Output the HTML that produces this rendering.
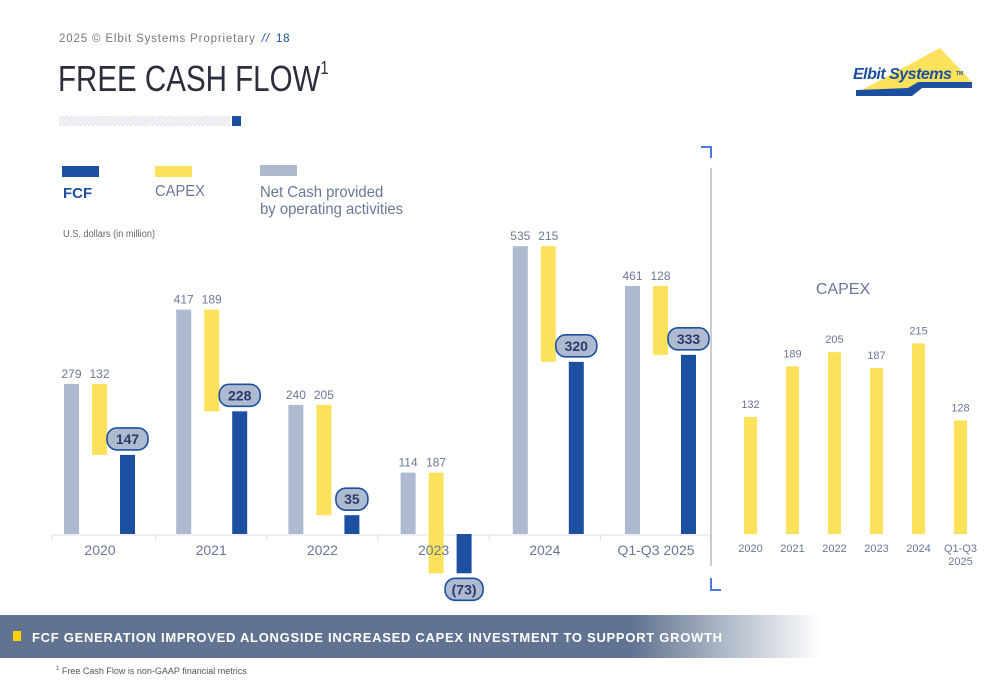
<!DOCTYPE html>
<html><head><meta charset="utf-8"><style>
body{margin:0;width:1000px;height:685px;background:#fff;font-family:"Liberation Sans",sans-serif;overflow:hidden;position:relative}
.abs{position:absolute}
</style></head><body>
<div class="abs" style="left:59px;top:33px;font-size:11.5px;letter-spacing:0.85px;color:#777">2025 © Elbit Systems Proprietary <span style="color:#1c4fa0;font-style:italic;margin-left:2px">//</span> <span style="color:#1c4fa0;margin-left:2px">18</span></div>
<div class="abs" style="left:58px;top:58px;font-size:36px;color:#2b2f3d;transform:scaleX(0.82);transform-origin:left">FREE CASH FLOW<sup style="font-size:18px;position:relative;top:-4px">1</sup></div>
<div class="abs" style="left:59px;top:116px;width:172px;height:10px;background:repeating-linear-gradient(135deg,#dfe3ea 0 1px,#f4f5f8 1px 3px)"></div>
<div class="abs" style="left:232px;top:116px;width:9px;height:10px;background:#1c4fa0"></div>
<svg class="abs" style="left:840px;top:40px" width="140" height="60">
<polygon points="18,52 100,8 132,42 85,42 72,52" fill="#fce15b"/>
<polygon points="16,50 68,48 78,42 132,42 132,48 82,48 72,56 16,56" fill="#1c4fa0"/>
<text x="13" y="39" font-size="16" font-weight="bold" font-style="italic" fill="#1c4fa0" letter-spacing="-0.5">Elbit Systems</text>
<text x="116" y="35" font-size="5" font-weight="bold" fill="#1c4fa0">TM</text>
</svg>
<div class="abs" style="left:62px;top:166px;width:37px;height:11px;background:#1c4fa0"></div>
<div class="abs" style="left:63px;top:185px;font-size:15px;font-weight:bold;color:#1c4fa0">FCF</div>
<div class="abs" style="left:155px;top:166px;width:37px;height:11px;background:#fce15b"></div>
<div class="abs" style="left:155px;top:183px;font-size:15.5px;color:#6a7795;transform:scaleX(0.95);transform-origin:left">CAPEX</div>
<div class="abs" style="left:260px;top:165px;width:37px;height:11px;background:#aebad0"></div>
<div class="abs" style="left:260px;top:184px;font-size:16px;line-height:17px;color:#6a7795;transform:scaleX(0.93);transform-origin:left">Net Cash provided<br>by operating activities</div>
<div class="abs" style="left:63px;top:229px;font-size:10px;color:#666;transform:scaleX(0.92);transform-origin:left">U.S. dollars (in million)</div>
<svg id="chart" class="abs" style="left:0;top:0" width="1000" height="610"></svg>
<div class="abs" style="left:0;top:615px;width:820px;height:43px;background:linear-gradient(90deg,#607390 0,#607390 77%,#fff 100%)"></div>
<div class="abs" style="left:13px;top:631px;width:8px;height:10px;background:#fcd20a"></div>
<div class="abs" style="left:32px;top:630px;font-size:13px;font-weight:bold;color:#fff;letter-spacing:0.72px;white-space:nowrap">FCF GENERATION IMPROVED ALONGSIDE INCREASED CAPEX INVESTMENT TO SUPPORT GROWTH</div>
<div class="abs" style="left:56px;top:666px;font-size:9px;color:#555"><sup style="font-size:6px">1</sup> Free Cash Flow is non-GAAP financial metrics</div>
<script>
const years=["2020","2021","2022","2023","2024","Q1-Q3 2025"];
const netCash=[279,417,240,114,535,461];
const capex=[132,189,205,187,215,128];
const fcf=[147,228,35,-73,320,333];
const fcfLabels=["147","228","35","(73)","320","333"];
const rYears=["2020","2021","2022","2023","2024","Q1-Q3\n2025"];
const rCapex=[132,189,205,187,215,128];
const NS="http://www.w3.org/2000/svg",svg=document.getElementById('chart');
function mk(t,a,txt){const e=document.createElementNS(NS,t);for(const k in a)e.setAttribute(k,a[k]);if(txt!==undefined)e.textContent=txt;svg.appendChild(e);return e;}
const base=534,k=0.538;
const y=v=>base-v*k;
const gx=i=>64+i*112.2;
const lx=i=>100+i*111.2;
let ax=mk('line',{x1:52,x2:710,y1:base+1,y2:base+1,stroke:'#dde2ea','stroke-width':1});

for(let i=0;i<=years.length;i++){const tx=i==0?52:(i==years.length?710:lx(i)-55.6);let t=mk('line',{x1:tx,x2:tx,y1:base+1,y2:base+7,stroke:'#dde2ea'});}
years.forEach((yr,i)=>{
  const x=gx(i);
  let r=mk('rect',{x:x,y:y(netCash[i]),width:15,height:netCash[i]*k,fill:'#aebad0'});
  
  let t=mk('text',{x:x+7.5,y:y(netCash[i])-6,'text-anchor':'middle','font-size':12,fill:'#6a7795'},netCash[i]);
  
  let c=mk('rect',{x:x+28,y:y(netCash[i]),width:15,height:capex[i]*k,fill:'#fce15b'});
  
  let ct=mk('text',{x:x+35.5,y:y(netCash[i])-6,'text-anchor':'middle','font-size':12,fill:'#6a7795'},capex[i]);
  
  const top=fcf[i]>=0?y(fcf[i]):base,h=Math.abs(fcf[i])*k;
  let f=mk('rect',{x:x+56,y:top,width:15,height:h,fill:'#1c4fa0'});
  
  const cy=fcf[i]>=0?y(fcf[i])-16:base+h+16;
  const w=fcfLabels[i].length>3?34:fcfLabels[i].length*9+10;
  let b=mk('rect',{x:x+63.5-w/2-2,y:cy-11,width:w+4,height:22,rx:10,fill:'#aebad0',stroke:'#1c4fa0','stroke-width':1.6});
  
  let bt=mk('text',{x:x+63.5,y:cy+5,'text-anchor':'middle','font-size':14,'font-weight':'bold',fill:'#2b3a6a'},fcfLabels[i]);
  
  let yl=mk('text',{x:lx(i),y:555,'text-anchor':'middle','font-size':14,fill:'#6a7795'},yr);
  
});
let d=mk('line',{x1:711,x2:711,y1:168,y2:566,stroke:'#bbb','stroke-width':1.5});
let p1=mk('polyline',{points:'701,147 711,147 711,158',fill:'none',stroke:'#4a7be0','stroke-width':2});
let p2=mk('polyline',{points:'711,578 711,590 721,590',fill:'none',stroke:'#4a7be0','stroke-width':2});
let rt=mk('text',{x:843,y:294,'text-anchor':'middle','font-size':16,fill:'#6a7795'},'CAPEX');
const rk=0.887,rx=i=>744+i*42;
rCapex.forEach((v,i)=>{
  let r=mk('rect',{x:rx(i),y:base-v*rk,width:13,height:v*rk,fill:'#fce15b'});
  
  let t=mk('text',{x:rx(i)+6.5,y:base-v*rk-9,'text-anchor':'middle','font-size':11,fill:'#6a7795'},v);
  
  rYears[i].split('\n').forEach((ln,j)=>{let l=mk('text',{x:rx(i)+6.5,y:552+j*13,'text-anchor':'middle','font-size':11,fill:'#6a7795'},ln);
  });
});
</script>
</body></html>
